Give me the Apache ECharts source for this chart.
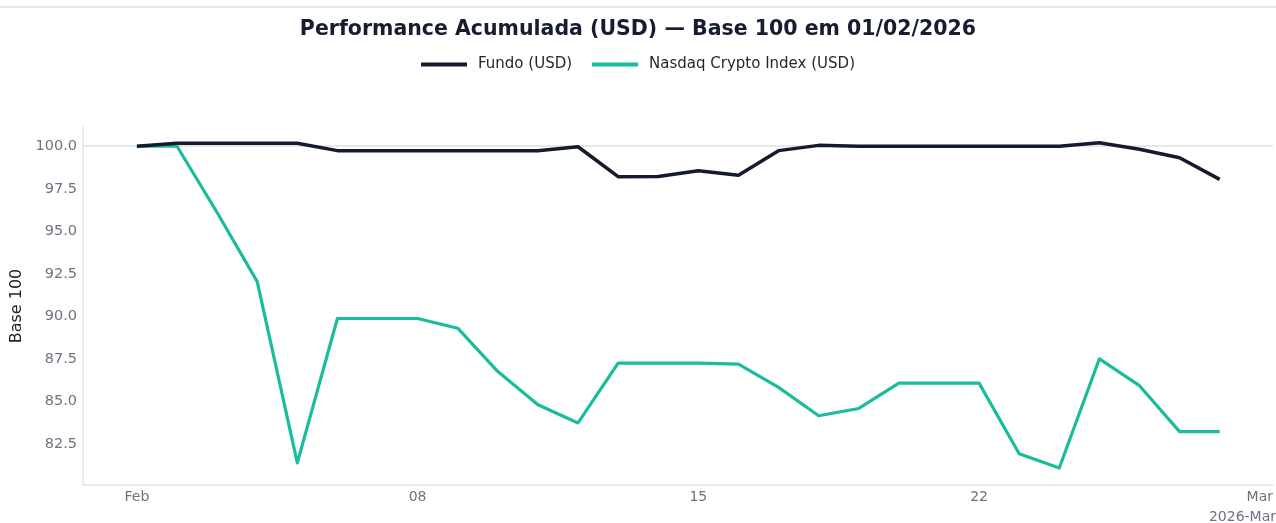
<!DOCTYPE html>
<html>
<head>
<meta charset="utf-8">
<script src="https://cdn.jsdelivr.net/npm/echarts@6/dist/echarts.min.js"></script>
<style>
html,body{margin:0;padding:0;background:#fff;}
#chart{width:1276px;height:523px;}
</style>
</head>
<body>
<div id="chart"></div>
<script>
// ---- data ----
const days = [1,2,3,4,5,6,7,8,9,10,11,12,13,14,15,16,17,18,19,20,21,22,23,24,25,26,27,28]; // Feb 2026
const fundo = [100.0,100.17,100.17,100.17,100.17,99.74,99.74,99.74,99.74,99.74,99.74,99.97,98.21,98.22,98.56,98.29,99.74,100.05,100.0,100.0,100.0,100.0,100.0,100.0,100.2,99.82,99.32,98.05];
const nasdaq = [100.0,100.0,96.1,92.04,81.38,89.87,89.87,89.87,89.3,86.75,84.8,83.73,87.25,87.25,87.25,87.19,85.82,84.15,84.58,86.07,86.07,86.07,81.92,81.08,87.5,85.92,83.22,83.22];
const yTicks = [82.5,85.0,87.5,90.0,92.5,95.0,97.5,100.0];
const xTickDates = [[2026,1,1],[2026,1,8],[2026,1,15],[2026,1,22],[2026,2,1]];
const BASE = 100;
const titleText = 'Performance Acumulada (USD) — Base 100 em 01/02/2026';
const seriesNames = ['Fundo (USD)', 'Nasdaq Crypto Index (USD)'];
const periodLabel = '2026-Mar';

const DAY = 86400000;
const ts = d => new Date(2026, 1, d).getTime();
const fundoData = days.map((d,i) => [ts(d), fundo[i]]);
const nasdaqData = days.map((d,i) => [ts(d), nasdaq[i]]);
const xTicks = xTickDates.map(a => new Date(a[0], a[1], a[2]).getTime());
const monthNames = ['Jan','Feb','Mar','Apr','May','Jun','Jul','Aug','Sep','Oct','Nov','Dec'];

const FONT = '"DejaVu Sans", sans-serif';
const GRAY = '#6b7280';
const AXIS = '#e3e5ea';

const chart = echarts.init(document.getElementById('chart'), null, {renderer:'canvas'});
chart.setOption({
  animation: false,
  backgroundColor: '#ffffff',
  title: {
    text: titleText,
    left: 'center',
    top: 14,
    textStyle: {fontFamily: FONT, fontSize: 20.5, fontWeight: 'bold', color: '#161d30'}
  },
  legend: {
    top: 52,
    left: 'center',
    icon: 'rect',
    itemWidth: 46,
    itemHeight: 4,
    itemGap: 20,
    textStyle: {fontFamily: FONT, fontSize: 15, color: '#1f2430', padding: [0,0,0,6]},
    data: seriesNames
  },
  graphic: [
    {type:'rect', left:0, top:6, shape:{width:1276, height:2}, style:{fill:'#e3e6ea'}, silent:true},
    {type:'text', right:0, top:510, style:{text: periodLabel, font:'14px "DejaVu Sans"', fill: GRAY}}
  ],
  grid: {left: 83, right: 0, top: 127, bottom: 38},
  xAxis: {
    type: 'value',
    min: ts(1) - 1.344*DAY,
    max: xTicks[xTicks.length-1] + 0.33*DAY,
    axisLine: {show: true, lineStyle: {color: AXIS, width: 1.5}},
    axisTick: {show: false},
    splitLine: {show: false},
    axisLabel: {
      customValues: xTicks,
      margin: 5,
      fontFamily: FONT, fontSize: 14, color: GRAY,
      formatter: v => {
        const d = new Date(v);
        if (d.getDate() === 1) return monthNames[d.getMonth()];
        return String(d.getDate()).padStart(2,'0');
      }
    }
  },
  yAxis: {
    type: 'value',
    min: 80.08,
    max: 101.13,
    name: 'Base 100',
    nameLocation: 'middle',
    nameGap: 56,
    nameTextStyle: {fontFamily: FONT, fontSize: 16, color: '#222'},
    axisLine: {show: true, lineStyle: {color: AXIS, width: 1.5}},
    axisTick: {show: false},
    splitLine: {show: false},
    axisLabel: {
      customValues: yTicks,
      margin: 6,
      fontFamily: FONT, fontSize: 14.5, color: GRAY,
      formatter: v => v.toFixed(1)
    }
  },
  series: [
    {
      name: seriesNames[0],
      type: 'line',
      data: fundoData,
      symbol: 'none',
      z: 3,
      lineStyle: {color: '#151b2e', width: 3.5, join: 'round'},
      itemStyle: {color: '#151b2e'},
      markLine: {
        silent: true,
        symbol: 'none',
        z: 1,
        label: {show: false},
        lineStyle: {color: '#dcdfe5', width: 1.5, type: 'solid'},
        data: [{yAxis: BASE}]
      }
    },
    {
      name: seriesNames[1],
      type: 'line',
      data: nasdaqData,
      symbol: 'none',
      z: 2,
      lineStyle: {color: '#1abc9c', width: 3.2, join: 'round'},
      itemStyle: {color: '#1abc9c'}
    }
  ]
});
</script>
</body>
</html>
